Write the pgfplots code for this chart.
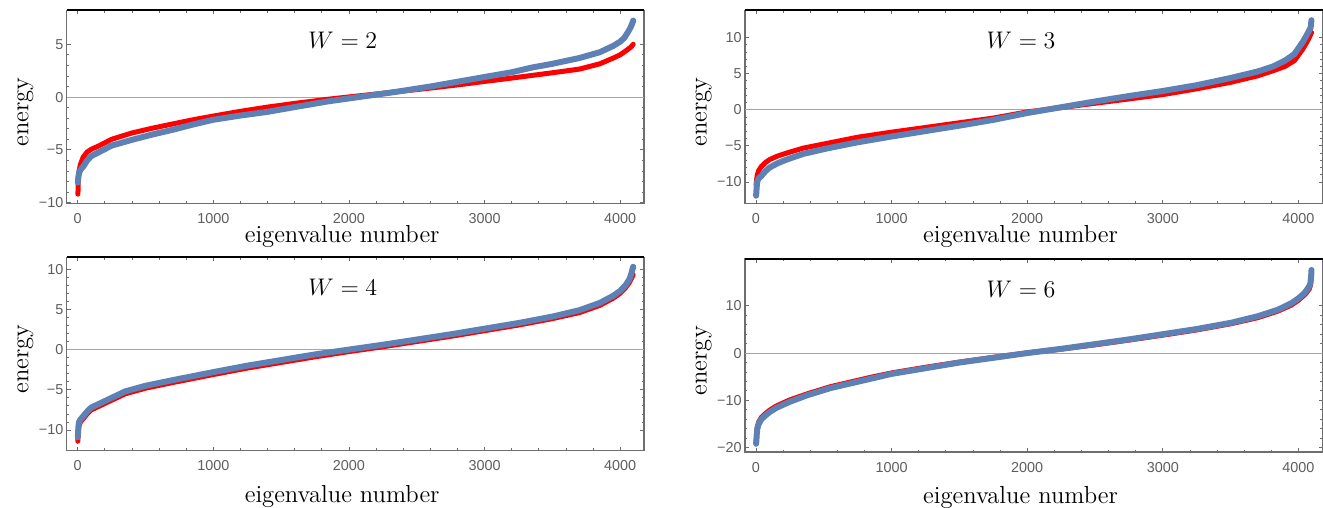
\documentclass[border=0pt]{standalone}
\usepackage{fontspec}
\usepackage{pgfplots}
\pgfplotsset{compat=1.18}
\newfontfamily\ticksf{Liberation Sans}
\definecolor{mblue}{HTML}{5E81B5}
\definecolor{mred}{HTML}{FF0000}
\definecolor{framegray}{HTML}{6E6E6E}
\definecolor{tickgray}{HTML}{5E5E5E}
\definecolor{zerogray}{HTML}{A5A5A5}

\pgfplotsset{
  mma/.style={
    scale only axis, width=288.8pt, height=96.6pt,
    xmin=-81, xmax=4178,
    xtick={0,1000,2000,3000,4000},
    xticklabels={0,1000,2000,3000,4000},
    minor x tick num=4, minor y tick num=4,
    tick align=inside,
    major tick length=2pt, minor tick length=1.1pt,
    tick style={draw=framegray, line width=0.4pt},
    axis line style={draw=framegray, line width=0.8pt},
    tick label style={font=\ticksf\fontsize{7.2}{8}\selectfont, text=tickgray},
    xticklabel style={inner sep=0.5pt, yshift=-4.2pt},
    yticklabel style={inner sep=0.5pt, xshift=-1.0pt},
    ylabel={energy}, xlabel={eigenvalue number},
    label style={font=\fontsize{12.3}{14}\selectfont, inner sep=0pt},
    ylabel style={at={([xshift=-16.5pt,yshift=-2.5pt]rel axis cs:0,0.5)}, anchor=south},
    after end axis/.code={\draw[black, line width=1pt] (rel axis cs:0,1) -- (rel axis cs:1,1);},
  },
  toprow/.style={xlabel style={at={([yshift=-19.6pt]rel axis cs:0.477,0)}, anchor=base}},
  botrow/.style={xlabel style={at={([yshift=-25.8pt]rel axis cs:0.477,0)}, anchor=base}},
  redband/.style={mred, line width=2.5pt, line join=round, line cap=round, no marks},
  blueband/.style={mblue, line width=3pt, line join=round, line cap=round, no marks},
  zeroline/.style={zerogray, line width=0.5pt, no marks, forget plot},
}
\newcommand{\wlabel}[1]{\node at (rel axis cs:0.478,0.845) {\fontsize{12.5}{14}\selectfont $W=#1$};}

\begin{document}
\begin{tikzpicture}
\useasboundingbox (0,0) rectangle (661.5pt,254pt);

% W = 2
\begin{axis}[mma, toprow, at={(33.35pt,152.15pt)}, anchor=south west,
    ymin=-10.1, ymax=8.2, ytick={-10,-5,0,5}, yticklabels={−10,−5,0,5}]
\addplot[zeroline] coordinates {(-81,0) (4178,0)};
\addplot[redband] coordinates {
 (1,-9.2) (3,-8.8) (5,-7.6) (10,-7.0) (20,-6.4) (40,-5.7) (70,-5.2) (100,-4.95)
 (160,-4.6) (250,-4.0) (400,-3.4) (550,-2.95) (700,-2.55) (850,-2.15) (1000,-1.8)
 (1200,-1.35) (1400,-0.95) (1600,-0.6) (1850,-0.2) (2100,0.15) (2350,0.5)
 (2600,0.85) (2800,1.15) (3000,1.48) (3200,1.8) (3350,2.05) (3500,2.3) (3700,2.65)
 (3850,3.15) (3950,3.7) (4000,4.0) (4050,4.45) (4080,4.75) (4096,5.0)};
\addplot[blueband] coordinates {
 (1,-8.1) (5,-7.6) (10,-7.2) (20,-6.9) (40,-6.6) (70,-6.0) (100,-5.6) (160,-5.2)
 (250,-4.6) (400,-4.05) (550,-3.55) (700,-3.1) (850,-2.6) (1000,-2.15) (1200,-1.75)
 (1400,-1.4) (1600,-0.95) (1850,-0.4) (2100,0.05) (2350,0.5) (2600,1.0)
 (2800,1.45) (3000,1.9) (3200,2.35) (3350,2.8) (3500,3.15) (3700,3.7) (3850,4.25)
 (3950,4.85) (4000,5.25) (4030,5.6) (4055,6.1) (4075,6.55) (4090,7.0) (4096,7.25)};
\wlabel{2}
\end{axis}

% W = 3
\begin{axis}[mma, toprow, at={(372.5pt,152.15pt)}, anchor=south west,
    ymin=-13.0, ymax=13.74, ytick={-10,-5,0,5,10}, yticklabels={−10,−5,0,5,10}]
\addplot[zeroline] coordinates {(-81,0) (4178,0)};
\addplot[redband] coordinates {
 (1,-10.4) (5,-9.6) (10,-9.0) (20,-8.4) (38,-7.9) (70,-7.3) (100,-6.9) (160,-6.4)
 (225,-6.0) (350,-5.3) (537,-4.6) (750,-3.8) (1000,-3.1) (1250,-2.45) (1500,-1.8)
 (1750,-1.15) (2000,-0.3) (2250,0.3) (2500,0.9) (2750,1.5) (3000,2.1) (3250,2.9)
 (3500,3.8) (3700,4.7) (3813,5.4) (3900,6.0) (3970,6.8) (4032,8.4) (4060,9.3)
 (4080,10.0) (4096,10.7)};
\addplot[blueband] coordinates {
 (1,-11.9) (3,-11.3) (6,-10.5) (10,-9.9) (20,-9.5) (38,-9.2) (70,-8.5) (100,-8.0)
 (160,-7.4) (225,-6.9) (350,-6.1) (537,-5.3) (750,-4.5) (1000,-3.7) (1250,-2.95)
 (1500,-2.2) (1750,-1.4) (2000,-0.45) (2250,0.35) (2500,1.15) (2750,1.9) (3000,2.6)
 (3250,3.4) (3500,4.4) (3700,5.3) (3813,6.0) (3900,6.8) (3970,7.7) (4032,9.4)
 (4060,10.3) (4080,11.0) (4090,11.4) (4096,12.4)};
\wlabel{3}
\end{axis}

% W = 4
\begin{axis}[mma, botrow, at={(33.35pt,28.65pt)}, anchor=south west,
    ymin=-12.57, ymax=11.45, ytick={-10,-5,0,5,10}, yticklabels={−10,−5,0,5,10}]
\addplot[zeroline] coordinates {(-81,0) (4178,0)};
\addplot[redband] coordinates {
 (1,-11.4) (3,-10.6) (6,-9.9) (10,-9.5) (20,-9.0) (40,-8.6) (70,-8.0) (100,-7.5)
 (150,-7.1) (250,-6.3) (350,-5.5) (500,-4.8) (700,-4.1) (1000,-3.1) (1250,-2.3)
 (1500,-1.6) (1750,-0.9) (2000,-0.25) (2250,0.35) (2500,1.0) (2750,1.65)
 (3000,2.35) (3250,3.05) (3500,3.85) (3700,4.6) (3850,5.5) (3950,6.4) (4000,7.0)
 (4040,7.7) (4070,8.4) (4085,8.9) (4096,9.3)};
\addplot[blueband] coordinates {
 (1,-10.9) (3,-10.3) (6,-9.5) (10,-9.0) (20,-8.7) (40,-8.3) (70,-7.7) (100,-7.2)
 (150,-6.8) (250,-6.0) (350,-5.2) (500,-4.5) (700,-3.8) (1000,-2.8) (1250,-2.0)
 (1500,-1.3) (1750,-0.6) (2000,0.0) (2250,0.6) (2500,1.25) (2750,1.9) (3000,2.6)
 (3250,3.3) (3500,4.1) (3700,4.9) (3850,5.8) (3950,6.7) (4000,7.3) (4040,8.0)
 (4070,8.8) (4085,9.6) (4096,10.3)};
\wlabel{4}
\end{axis}

% W = 6
\begin{axis}[mma, botrow, at={(372.5pt,27.85pt)}, anchor=south west,
    ymin=-21.0, ymax=19.9, ytick={-20,-10,0,10}, yticklabels={−20,−10,0,10}]
\addplot[zeroline] coordinates {(-81,0) (4178,0)};
\addplot[redband] coordinates {
 (1,-18.7) (3,-18.2) (6,-16.6) (10,-15.6) (20,-14.6) (40,-13.6) (70,-12.8)
 (100,-12.1) (150,-11.2) (250,-9.9) (380,-8.6) (550,-7.1) (850,-5.1) (1000,-4.2)
 (1250,-3.0) (1500,-1.9) (1750,-0.9) (2000,0.05) (2250,0.85) (2500,1.75)
 (2750,2.75) (3000,3.8) (3250,4.9) (3500,6.2) (3700,7.5) (3850,8.9) (3950,10.2)
 (4000,11.2) (4040,12.2) (4060,12.8) (4080,13.6) (4088,14.3) (4092,15.2)
 (4096,16.8)};
\addplot[blueband] coordinates {
 (1,-19.2) (3,-18.5) (6,-17.0) (10,-16.0) (20,-15.0) (40,-14.0) (70,-13.2)
 (100,-12.5) (150,-11.6) (250,-10.3) (380,-8.9) (550,-7.4) (850,-5.4) (1000,-4.4)
 (1250,-3.2) (1500,-2.0) (1750,-1.0) (2000,0.0) (2250,0.9) (2500,1.9) (2750,2.9)
 (3000,4.0) (3250,5.1) (3500,6.4) (3700,7.8) (3850,9.2) (3950,10.6) (4000,11.6)
 (4040,12.6) (4060,13.3) (4080,14.2) (4088,14.8) (4092,15.8) (4095,16.9)
 (4096,17.6)};
\wlabel{6}
\end{axis}
\end{tikzpicture}
\end{document}
